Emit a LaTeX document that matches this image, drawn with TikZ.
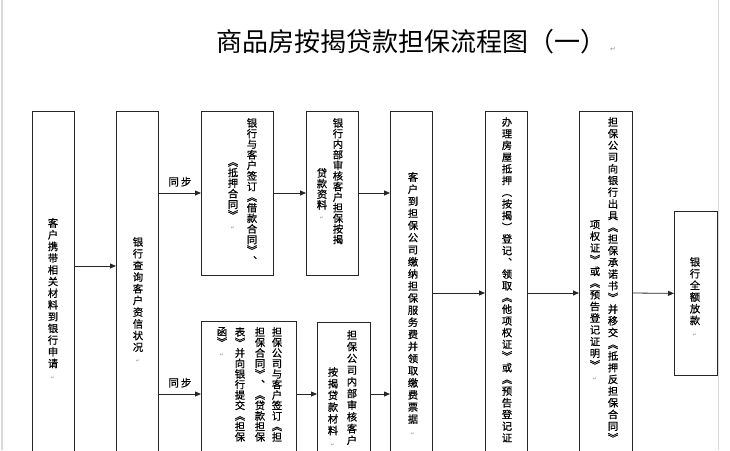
\documentclass[tikz,border=0pt]{standalone}
\usepackage{fontspec}
\setmainfont{Noto Sans CJK SC}
\newfontfamily\boxfont[FakeBold=0.6]{Noto Sans CJK SC}
\newfontfamily\dejavu{DejaVu Sans}
\usetikzlibrary{arrows.meta}

% one column of upright characters, read from top to bottom
\newcommand\vcolloop[1]{\ifx\relax#1\else\hbox to 1em{\hss#1\hss}\expandafter\vcolloop\fi}
\newcommand\vcol[2][11.7pt]{\vbox{\baselineskip=#1\lineskiplimit=-\maxdimen\vcolloop#2\relax}}
\newcommand\pmark{{\dejavu\fontsize{5}{5}\selectfont\color{black!40}↵}}

\begin{document}
\begin{tikzpicture}[x=1pt, y=-1pt,
    %Option for nice arrows
    >={Triangle[length=6pt,width=5pt]},
    box/.style={draw=black!85, line width=0.8pt, anchor=north west, inner sep=0pt},
    vtext/.style={inner sep=0pt, anchor=north, font=\boxfont\fontsize{10.3}{11}\selectfont},
    flow/.style={->, line width=0.8pt, draw=black!85},
    sync/.style={above=6pt, inner sep=0pt, font=\boxfont\fontsize{10.5}{12}\selectfont},
    pageedge/.style={draw=black!15, line width=1.5pt},
]
    \useasboundingbox (0,0) rectangle (730,450);
    \clip (0,0) rectangle (730,450);
    \fill[white] (0,0) rectangle (730,450);

    % Page edges
    \draw[pageedge] (2,0) -- (2,450);
    \draw[pageedge] (718.5,0) -- (718.5,450);

    % Title
    \node[anchor=west, inner sep=0pt, font=\fontsize{26}{30}\selectfont] (title) at (216,42)
        {商品房按揭贷款担保流程图（一）\hspace{4pt}{\dejavu\fontsize{7}{7}\selectfont\color{black!40}↵}};

    % Boxes
    \node[box, minimum width=42, minimum height=389] (apply)   at (32,111)  {};
    \node[box, minimum width=42, minimum height=389] (credit)  at (116,111) {};
    \node[box, minimum width=72, minimum height=164] (loan)    at (201,111) {};
    \node[box, minimum width=52, minimum height=164] (bankchk) at (306,111) {};
    \node[box, minimum width=95, minimum height=180] (guar)    at (201,321) {};
    \node[box, minimum width=53, minimum height=180] (guarchk) at (317,322) {};
    \node[box, minimum width=42, minimum height=389] (fee)     at (390,111) {};
    \node[box, minimum width=42, minimum height=389] (regist)  at (485,111) {};
    \node[box, minimum width=53, minimum height=389] (promise) at (579,111) {};
    \node[box, minimum width=43, minimum height=164] (payout)  at (674,211) {};

    % Texts, columns from right to left
    \node[vtext] (t1)  at (53,218)  {\vcol{客户携带相关材料到银行申请\pmark}};
    \node[vtext] (t2)  at (138,237) {\vcol{银行查询客户资信状况\pmark}};
    \node[vtext] (t3a) at (252,118) {\vcol[10.6pt]{银行与客户签订︽借款合同︾︑}};
    \node[vtext] (t3b) at (233,162) {\vcol[10.6pt]{︽抵押合同︾\pmark}};
    \node[vtext] (t4a) at (338,118) {\vcol[10.6pt]{银行内部审核客户担保按揭}};
    \node[vtext] (t4b) at (322,168) {\vcol[10.6pt]{贷款资料\pmark}};
    \node[vtext] (t5a) at (277,327) {\vcol[10.5pt]{担保公司与客户签订︽担}};
    \node[vtext] (t5b) at (260,327) {\vcol[10.5pt]{担保合同︾︑︽贷款担保}};
    \node[vtext] (t5c) at (240,327) {\vcol[10.5pt]{表︾并向银行提交︽担保}};
    \node[vtext] (t5d) at (222,327) {\vcol[10.5pt]{函︾\pmark}};
    \node[vtext] (t6a) at (352,330) {\vcol{担保公司内部审核客户}};
    \node[vtext] (t6b) at (333,367) {\vcol{按揭贷款材料\pmark}};
    \node[vtext] (t7)  at (413,172) {\vcol[12.1pt]{客户到担保公司缴纳担保服务费并领取缴费票据\pmark}};
    \node[vtext] (t8)  at (507,117) {\vcol{办理房屋抵押︵按揭︶登记︑领取︽他项权证︾或︽预告登记证}};
    \node[vtext] (t9a) at (613,117) {\vcol{担保公司向银行出具︽担保承诺书︾并移交︽抵押反担保合同︾}};
    \node[vtext] (t9b) at (595,220) {\vcol{项权证︾或︽预告登记证明︾\pmark}};
    \node[vtext] (t10) at (695,257) {\vcol{银行全额放款\pmark}};

    % Arrow rows
    \coordinate (r1) at (0,266);
    \coordinate (r2) at (0,193);
    \coordinate (r3) at (0,394);
    \coordinate (r4) at (0,293);

    % Arrows
    \draw[flow] (apply.east |- r1) -- (credit.west |- r1);
    \draw[flow] (credit.east |- r2) -- node[sync] (s1) {同\hspace{2pt}步} (loan.west |- r2);
    \draw[flow] (credit.east |- r3) -- node[sync] (s2) {同\hspace{2pt}步} (guar.west |- r3);
    \draw[flow] (loan.east |- r2) -- (bankchk.west |- r2);
    \draw[flow] (bankchk.east |- r2) -- (fee.west |- r2);
    \draw[flow] (guar.east |- r3) -- (guarchk.west |- r3);
    \draw[flow] (guarchk.east |- r3) -- (fee.west |- r3);
    \draw[flow] (fee.east |- r4) -- (regist.west |- r4);
    \draw[flow] (regist.east |- r4) -- (promise.west |- r4);
    \draw[flow] (promise.east |- r4) -- (payout.west);

\end{tikzpicture}
\end{document}
